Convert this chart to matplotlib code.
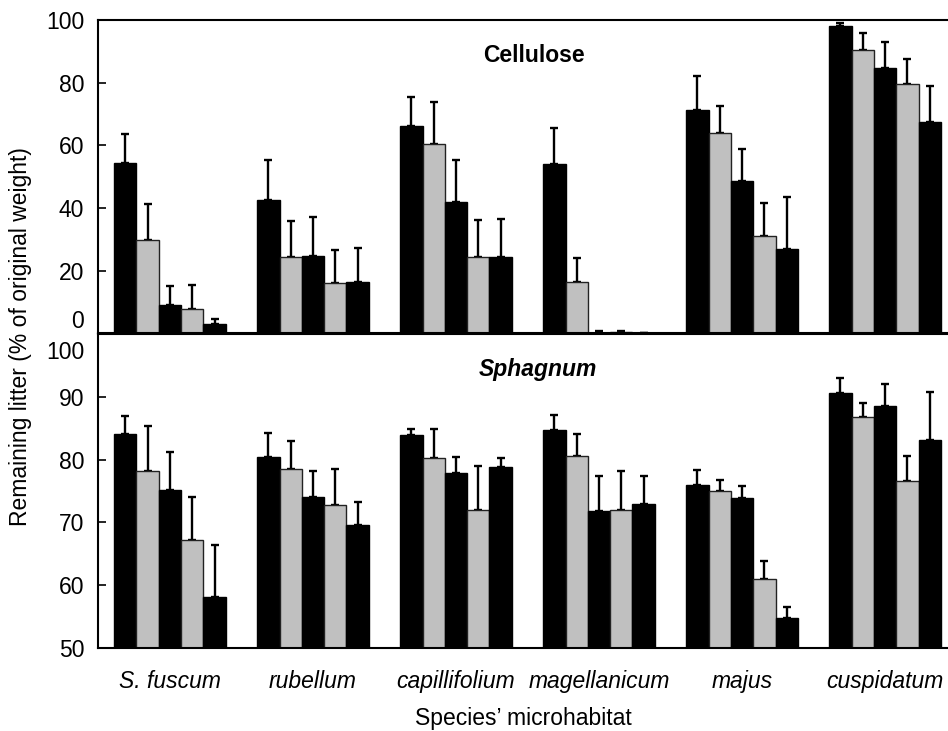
import numpy as np
import matplotlib.pyplot as plt
from matplotlib.transforms import ScaledTranslation

plt.rcParams['font.family'] = ['Liberation Sans', 'DejaVu Sans']

species = ['S. fuscum', 'rubellum', 'capillifolium', 'magellanicum', 'majus', 'cuspidatum']

# remaining cellulose, 5 bars per microhabitat, and top of the error bar
cellulose = np.array([
    [54.2, 29.7, 8.9, 7.9, 3.1],
    [42.5, 24.3, 24.6, 16.2, 16.4],
    [66.1, 60.3, 42.0, 24.5, 24.5],
    [54.1, 16.5, 0.2, 0.3, 0.1],
    [71.2, 63.8, 48.7, 31.0, 26.9],
    [98.1, 90.3, 84.8, 79.7, 67.3],
])
cellulose_top = np.array([
    [63.7, 41.4, 15.1, 15.5, 4.6],
    [55.2, 35.7, 37.1, 26.7, 27.2],
    [75.4, 73.7, 55.4, 36.1, 36.6],
    [65.5, 24.0, 0.7, 0.8, 0.1],
    [82.1, 72.6, 58.9, 41.7, 43.5],
    [99.1, 95.7, 93.0, 87.5, 78.8],
])

# remaining Sphagnum litter
sphagnum = np.array([
    [84.0, 78.1, 75.1, 67.1, 58.0],
    [80.4, 78.5, 74.1, 72.7, 69.6],
    [83.9, 80.3, 77.8, 71.9, 78.8],
    [84.7, 80.5, 71.8, 71.9, 72.9],
    [75.9, 75.0, 73.8, 61.0, 54.7],
    [90.6, 86.7, 88.5, 76.6, 83.1],
])
sphagnum_top = np.array([
    [87.0, 85.3, 81.2, 74.1, 66.3],
    [84.3, 82.9, 78.2, 78.5, 73.3],
    [84.8, 84.8, 80.4, 78.9, 80.3],
    [87.1, 84.1, 77.3, 78.1, 77.3],
    [78.3, 76.7, 75.7, 63.8, 56.5],
    [93.0, 89.0, 92.1, 80.6, 90.7],
])

colors = ['black', '#c0c0c0', 'black', '#c0c0c0', 'black']
w = 0.156
x = np.arange(len(species))

fig = plt.figure(figsize=(9.48, 7.31), dpi=100)
ax1 = fig.add_axes([0.1034, 0.5441, 0.8966, 0.4286])
ax2 = fig.add_axes([0.1034, 0.1140, 0.8966, 0.4290])


def draw(ax, vals, tops, base):
    for k in range(5):
        pos = x + (k - 2) * w
        ax.bar(pos, vals[:, k] - base, w, bottom=base, color=colors[k],
               edgecolor='#222222' if colors[k] != 'black' else 'black', linewidth=1.0, zorder=2)
        err = tops[:, k] - vals[:, k]
        ax.errorbar(pos, vals[:, k], yerr=[np.zeros_like(err), err], fmt='none',
                    ecolor='black', elinewidth=1.7, capsize=3, capthick=1.7, zorder=1)
    ax.set_xlim(-0.503, 5.44)
    ax.spines['right'].set_visible(False)
    for s in ['left', 'top', 'bottom']:
        ax.spines[s].set_linewidth(1.5)
    ax.tick_params(axis='y', direction='in', length=6, width=1.2, labelsize=16.5, pad=10)


draw(ax1, cellulose, cellulose_top, 0)
ax1.set_ylim(0, 100)
ax1.set_yticks([0, 20, 40, 60, 80, 100])
ax1.set_xticks([])
ax1.get_yticklabels()[0].set_verticalalignment('bottom')
ax1.text(0.513, 0.888, 'Cellulose', transform=ax1.transAxes, ha='center', va='center',
         fontsize=16.5, fontweight='bold')

draw(ax2, sphagnum, sphagnum_top, 50)
ax2.set_ylim(50, 100)
ax2.set_yticks([50, 60, 70, 80, 90, 100])
top_lbl = ax2.get_yticklabels()[-1]
top_lbl.set_verticalalignment('top')
top_lbl.set_transform(top_lbl.get_transform() + ScaledTranslation(0, -5 / 72, fig.dpi_scale_trans))
ax2.set_xticks(x)
ax2.set_xticklabels(species, fontsize=16.5, style='italic')
ax2.tick_params(axis='x', length=0, pad=16)
ax2.text(0.518, 0.888, 'Sphagnum', transform=ax2.transAxes, ha='center', va='center',
         fontsize=16.5, fontweight='bold', style='italic')
ax2.set_xlabel('Species\u2019 microhabitat', fontsize=16.5, labelpad=10)

fig.text(0.022, 0.54, 'Remaining litter (% of original weight)', rotation=90,
         ha='center', va='center', fontsize=16.5)

plt.savefig('out.png', dpi=100)
